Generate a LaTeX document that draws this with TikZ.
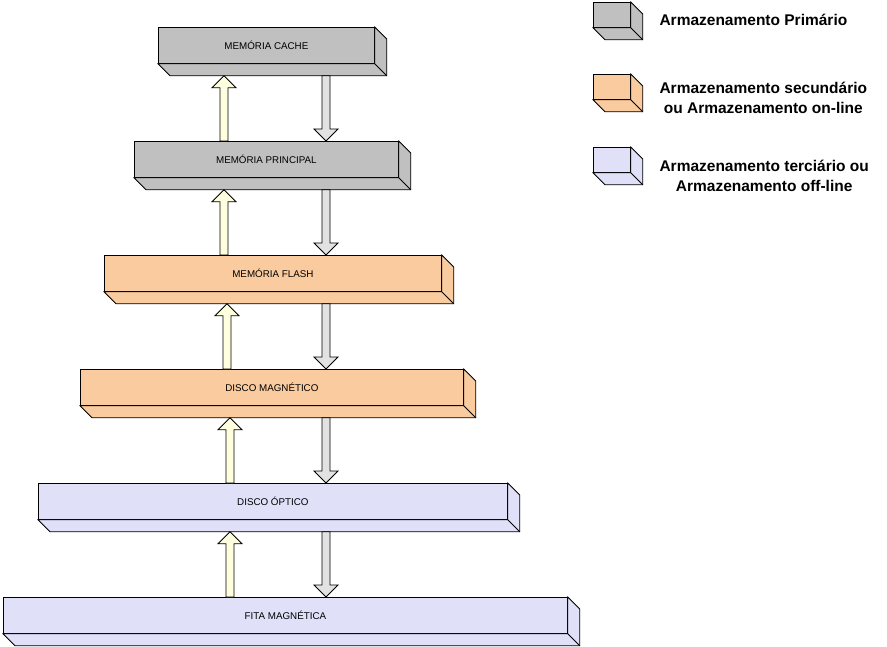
\documentclass[tikz,border=0pt]{standalone}
\usepackage{fontspec}
\setmainfont{Liberation Sans}
\usetikzlibrary{calc}

\definecolor{primcol}{HTML}{C0C0C0}
\definecolor{seccol}{HTML}{F9CB9F}
\definecolor{tercol}{HTML}{E0E0F8}
\definecolor{upcol}{HTML}{FFFFE0}
\definecolor{downcol}{HTML}{E2E2E2}

\tikzset{
  tier/.style={draw, fill=#1, line width=0.8pt, anchor=north west, minimum height=36pt,
    inner sep=0pt, font=\fontsize{9.8}{12}\selectfont},
  legcube/.style={draw, fill=#1, line width=0.8pt, anchor=north west, minimum width=37pt,
    minimum height=25pt, inner sep=0pt},
  legtext/.style={anchor=west, align=center, font=\fontsize{15.5}{20}\selectfont\bfseries},
  upflow/.style={draw, fill=upcol, line width=0.8pt,
    to path={let \p1=(\tikztostart), \p2=(\tikztotarget) in
      (\x1-4pt,\y1) -- (\x1-4pt,\y2-12pt) -- (\x1-12pt,\y2-12pt) -- (\x1,\y2)
      -- (\x1+12pt,\y2-12pt) -- (\x1+4pt,\y2-12pt) -- (\x1+4pt,\y1) -- cycle}},
  downflow/.style={draw, fill=downcol, line width=0.8pt,
    to path={let \p1=(\tikztostart), \p2=(\tikztotarget) in
      (\x1-4pt,\y1) -- (\x1-4pt,\y2+12pt) -- (\x1-12pt,\y2+12pt) -- (\x1,\y2)
      -- (\x1+12pt,\y2+12pt) -- (\x1+4pt,\y2+12pt) -- (\x1+4pt,\y1) -- cycle}}
}

\begin{document}
\begin{tikzpicture}[x=1pt, y=-1pt]
\path[use as bounding box, fill=white] (0,0) rectangle (887,647);

% storage tiers
\node[tier=primcol, minimum width=216pt] (cache) at (158,27) {MEMÓRIA CACHE};
\node[tier=primcol, minimum width=264pt] (principal) at (134,141) {MEMÓRIA PRINCIPAL};
\node[tier=seccol, minimum width=337pt] (flash) at (104,255) {MEMÓRIA FLASH};
\node[tier=seccol, minimum width=383pt] (discomag) at (80,369) {DISCO MAGNÉTICO};
\node[tier=tercol, minimum width=469pt] (discoopt) at (38,483) {DISCO ÓPTICO};
\node[tier=tercol, minimum width=564pt] (fita) at (3,597) {FITA MAGNÉTICA};

% legend
\node[legcube=primcol] (legprim) at (593,2) {};
\node[legcube=seccol] (legsec) at (593,74) {};
\node[legcube=tercol] (legter) at (593,147) {};
\node[legtext] (txtprim) at (656,20) {Armazenamento Primário};
\node[legtext] (txtsec) at (656,98) {Armazenamento secundário\\ou Armazenamento on-line};
\node[legtext] (txtter) at (656,176) {Armazenamento terciário ou\\Armazenamento off-line};

% 3d faces
\foreach \n/\c in {cache/primcol, principal/primcol, flash/seccol, discomag/seccol,
    discoopt/tercol, fita/tercol, legprim/primcol, legsec/seccol, legter/tercol} {
  \draw[line width=0.8pt, fill=\c] (\n.north east) -- ++(12,12)
    |- ([shift={(12,12)}]\n.south west) -- (\n.south west) -- (\n.south east) -- cycle;
  \draw[line width=0.8pt] (\n.south east) -- ++(12,12);
  \coordinate (\n-base) at ([yshift=-12pt]\n.south);
}

% transfers between tiers
\foreach \lo/\hi/\ux in {principal/cache/224, flash/principal/224, discomag/flash/227,
    discoopt/discomag/230, fita/discoopt/230} {
  \draw[upflow] (\ux,0 |- \lo.north) to (\ux,0 |- \hi-base);
  \draw[downflow] (326,0 |- \hi-base) to (326,0 |- \lo.north);
}
\end{tikzpicture}
\end{document}
